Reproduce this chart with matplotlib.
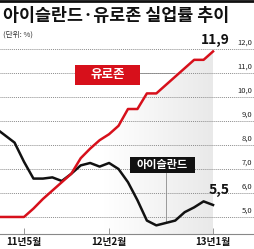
import numpy as np
import matplotlib
matplotlib.use('Agg')
import matplotlib.pyplot as plt
from matplotlib.patches import Rectangle, Polygon
from matplotlib.lines import Line2D
import matplotlib.transforms as mtransforms

plt.rcParams['font.family'] = ['Noto Sans CJK KR', 'DejaVu Sans']

# monthly data, 2011-02 .. 2013-01
months = ['11.02', '11.03', '11.04', '11.05', '11.06', '11.07', '11.08', '11.09',
          '11.10', '11.11', '11.12', '12.01', '12.02', '12.03', '12.04', '12.05',
          '12.06', '12.07', '12.08', '12.09', '12.10', '12.11', '12.12', '13.01']
eurozone = [5.0, 5.0, 5.0, 5.0, 5.35, 5.75, 6.1, 6.45, 6.8, 7.45, 7.85, 8.2,
            8.45, 8.8, 9.5, 9.5, 10.15, 10.15, 10.5, 10.85, 11.2, 11.55, 11.55, 11.9]
iceland = [8.7, 8.4, 8.1, 7.3, 6.6, 6.6, 6.65, 6.5, 6.8, 7.15, 7.25, 7.1,
           7.25, 7.0, 6.45, 5.7, 4.85, 4.65, 4.75, 4.85, 5.2, 5.4, 5.65, 5.5]
y_ticks = [5.0, 6.0, 7.0, 8.0, 9.0, 10.0, 11.0, 12.0]
tick_months = ['11.05', '12.02', '13.01']
tick_labels = ['11년5월', '12년2월', '13년1월']

RED = '#d7101b'
x = np.arange(len(months))

fig = plt.figure(figsize=(2.55, 2.49), dpi=100)
ax = fig.add_axes([0, 15 / 249, 1, 190 / 249])
ax.set_xlim(0.46, 27.44)
ax.set_ylim(4.29, 12.21)

# light grey shading under the eurozone line, fading in to the right
grad = np.linspace(0, 1, 256).reshape(1, -1)
cmap = matplotlib.colors.LinearSegmentedColormap.from_list('g', ['#ffffff', '#e9e9e9'])
im = ax.imshow(grad, extent=[11.5, x[-1], 4.29, 12.21], aspect='auto', cmap=cmap, zorder=0)
poly = Polygon(np.column_stack([np.r_[x, x[-1], x[0]],
                                np.r_[eurozone, 4.29, 4.29]]),
               closed=True, facecolor='none', edgecolor='none', transform=ax.transData)
ax.add_patch(poly)
im.set_clip_path(poly)

# grid lines and right-hand labels
trans = mtransforms.blended_transform_factory(ax.transAxes, ax.transData)
for v in y_ticks:
    ax.axhline(v, color='#8c8c8c', lw=0.7, ls=(0, (1, 1)), zorder=1)
    ax.text(1 - 3 / 255, v + 0.1, f'{v:.1f}'.replace('.', ','), transform=trans,
            ha='right', va='bottom', fontsize=5.5, color='#222')

ax.plot(x, iceland, color='#111111', lw=1.8, zorder=3, solid_joinstyle='round')
ax.plot(x, eurozone, color=RED, lw=1.8, zorder=4, solid_joinstyle='round')

# end values
ax.annotate('11,9', (x[-1], eurozone[-1]), xytext=(1.5, 3.5), textcoords='offset points',
            ha='center', va='bottom', fontsize=10, weight='bold', color='#111')
ax.annotate('5,5', (x[-1], iceland[-1]), xytext=(4, 5.5), textcoords='offset points',
            ha='center', va='bottom', fontsize=10, weight='bold', color='#111')

# series labels
ax.plot([15.28, 18.9], [11.0, 11.0], color='#8a8a8a', lw=0.6, zorder=2)
ax.add_patch(Rectangle((8.4, 10.5), 6.88, 0.83, facecolor=RED, edgecolor='none', zorder=5))
ax.text(11.84, 10.92, '유로존', ha='center', va='center', fontsize=9,
        weight='bold', color='white', zorder=6)

ax.plot([18.03, 18.03], [6.83, 4.75], color='#8a8a8a', lw=0.6, zorder=2)
ax.add_patch(Rectangle((14.22, 6.83), 6.88, 0.67, facecolor='#111111', edgecolor='none', zorder=5))
ax.text(17.66, 7.17, '아이슬란드', ha='center', va='center', fontsize=8,
        weight='bold', color='white', zorder=6)

# axes styling
for s in ['top', 'left', 'right']:
    ax.spines[s].set_visible(False)
ax.spines['bottom'].set_color('#888888')
ax.spines['bottom'].set_linewidth(0.8)
ax.set_yticks([])
ax.set_xticks([months.index(m) for m in tick_months])
ax.set_xticklabels(tick_labels, fontsize=7, weight='bold', color='#111')
ax.tick_params(axis='x', direction='in', length=4, width=0.6, color='#888888', pad=2.5)

# title block
fig.add_artist(Line2D([0, 1], [1 - 1 / 249] * 2, lw=2, color='#111'))
fig.text(3 / 255, 1 - 16 / 249, '아이슬란드·유로존 실업률 추이', ha='left', va='center',
         fontsize=12.5, weight='bold', color='#111')
fig.text(3 / 255, 1 - 35 / 249, '(단위: %)', ha='left', va='center',
         fontsize=5.5, color='#333')

fig.savefig('out.png', dpi=100)
